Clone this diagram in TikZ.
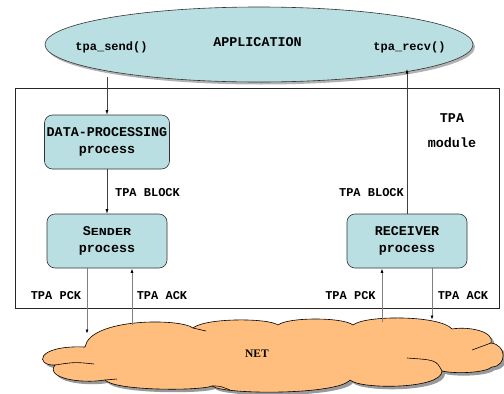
\documentclass[tikz,border=0pt]{standalone}
\usepackage{fontspec}
\setmonofont{Liberation Mono}
\newfontfamily\netfont{Liberation Serif}
\usetikzlibrary{shapes.geometric,arrows.meta}
\definecolor{boxblue}{RGB}{186,223,227}
\definecolor{netorange}{RGB}{255,190,125}
\def\cloudpath{(85,347) .. controls (90,318) and (180,318) .. (193,328)
 .. controls (205,317.8) and (268,317.8) .. (278,325)
 .. controls (288,317) and (343,317) .. (353,325)
 .. controls (365,315) and (440,315) .. (452,329)
 .. controls (470,326) and (495,332) .. (491,343)
 .. controls (507,345) and (507,366) .. (492,367)
 .. controls (485,373) and (455,374) .. (442,371)
 .. controls (442,389.5) and (360,389.5) .. (350,380)
 .. controls (338,395) and (224,395) .. (212,386)
 .. controls (200,391) and (115,391) .. (105,380)
 .. controls (80,384) and (45,378) .. (55,365)
 .. controls (35,366) and (35,345) .. (85,347) -- cycle}
\begin{document}
\begin{tikzpicture}[x=1pt,y=-1pt,
  big/.style={font=\ttfamily\bfseries\fontsize{13.4}{17}\selectfont, inner sep=0pt, align=center},
  small/.style={font=\ttfamily\bfseries\fontsize{12}{14}\selectfont, inner sep=0pt},
  procbox/.style={draw=black!80, line width=0.6pt, fill=boxblue, rounded corners=8pt,
    inner sep=0pt, align=center, font=\ttfamily\bfseries\fontsize{13.4}{17}\selectfont,
    minimum height=54pt},
  conn/.style={draw=black!75, line width=0.6pt, -{Latex[length=4.5pt,width=3pt,color=black]}},
  netconn/.style={draw=black!50, line width=1pt, -{Latex[length=4.5pt,width=3pt,color=black]}},
  cloudline/.style={draw=black, line width=0.6pt}
]
\useasboundingbox (0,0) rectangle (504,394);
% application
\fill[black!30] (261,47) ellipse [x radius=214, y radius=37.5];
\node[ellipse, draw=black!80, line width=0.6pt, fill=boxblue, minimum width=428pt,
  minimum height=75pt, inner sep=0pt] (app) at (259,44.5) {};
\node[big] (apptxt) at (257.5,42.5) {APPLICATION};
\node[small] (send) at (111.5,47) {tpa\_send()};
\node[small] (recv) at (409.5,47) {tpa\_recv()};
% module
\draw[black!85, line width=0.6pt] (15,88) rectangle (499,308);
\node[big] (tpa) at (452,118.5) {TPA};
\node[big] (module) at (452,142.5) {module};
% processes
\node[procbox, minimum width=125pt] (dp) at (107,142) {DATA-PROCESSING\\process};
\node[procbox, minimum width=120pt] (snd) at (107,241) {S\scalebox{1}[0.8]{ENDER}\\process};
\node[procbox, minimum width=120pt] (rcv) at (407,241) {RECEIVER\\process};
% net cloud
\fill[black!40, shift={(3,3)}] \cloudpath;
\filldraw[fill=netorange, cloudline] \cloudpath;
\draw[cloudline] (193,328) .. controls (199,329) .. (206,331);
\draw[cloudline] (55,365) .. controls (75,362) .. (94,364);
\draw[cloudline] (105,380) -- (117,379);
\draw[cloudline] (212,386) .. controls (220,386) .. (230,390);
\draw[cloudline] (491,343) .. controls (482,347) .. (472,350);
\draw[cloudline] (442,371) .. controls (436,360) .. (407,358);
\node[font=\netfont\bfseries\fontsize{11.5}{13}\selectfont, inner sep=0pt] (net) at (257,354) {NET};
% connector ends
\coordinate (sendpt) at (107,77);
\coordinate (recvpt) at (407,69);
\coordinate (n1) at (87,334);
\coordinate (n2) at (132,325);
\coordinate (n3) at (382,322);
\coordinate (n4) at (432,320);
% connectors
\draw[conn] (sendpt) -- (dp.north);
\draw[conn] (dp.south) -- (snd.north);
\draw[conn] (rcv.north) -- (recvpt);
\draw[netconn] ([xshift=-20pt]snd.south) -- (n1);
\draw[netconn] (n2) -- ([xshift=25pt]snd.south);
\draw[netconn] (n3) -- ([xshift=-25pt]rcv.south);
\draw[netconn] ([xshift=25pt]rcv.south) -- (n4);
% labels
\node[small] (blk1) at (147.5,193) {TPA BLOCK};
\node[small] (blk2) at (371.5,193) {TPA BLOCK};
\node[small] (pck1) at (56,296) {TPA PCK};
\node[small] (ack1) at (162,296) {TPA ACK};
\node[small] (pck2) at (350.5,296) {TPA PCK};
\node[small] (ack2) at (463,296) {TPA ACK};
\end{tikzpicture}
\end{document}
